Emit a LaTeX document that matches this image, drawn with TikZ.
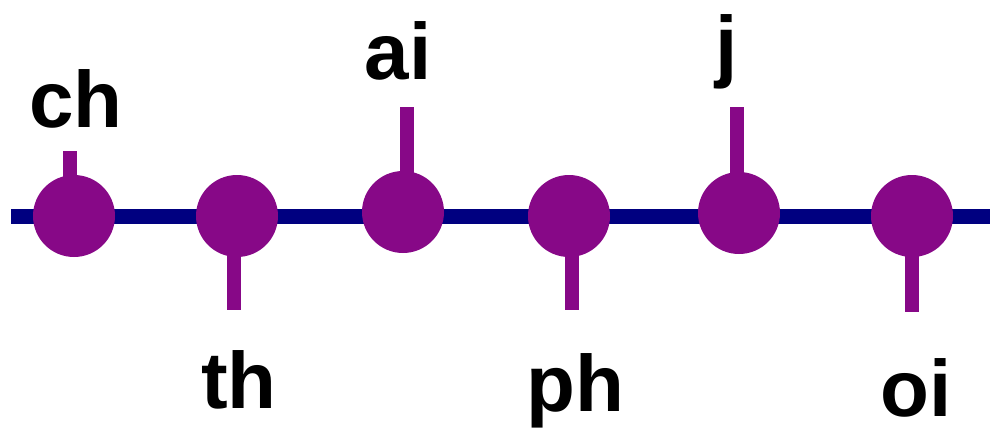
\documentclass[tikz,border=0pt]{standalone}
\usepackage{fontspec}
\setmainfont{Liberation Sans}
\definecolor{dotpurple}{RGB}{135,8,135}
\definecolor{linenavy}{RGB}{0,0,128}
\tikzset{
  dotnode/.style={circle, fill=dotpurple, draw=none, minimum size=82pt, inner sep=0pt},
  stemline/.style={draw=dotpurple, line width=14pt},
  axisline/.style={draw=linenavy, line width=15pt},
  lbl/.style={anchor=base, inner sep=0pt, font=\fontsize{80}{80}\selectfont\bfseries},
}
\begin{document}
\begin{tikzpicture}[x=1pt,y=-1pt]
\useasboundingbox (0,0) rectangle (990,429);
% main line (drawn first, behind the dots)
\coordinate (L) at (11,216);
\coordinate (R) at (990,216);
\draw[axisline] (L) -- (R);
% dots
\node[dotnode] (c1) at (74,216) {};
\node[dotnode] (c2) at (237,216) {};
\node[dotnode] (c3) at (403,212) {};
\node[dotnode] (c4) at (569,216) {};
\node[dotnode] (c5) at (739,213) {};
\node[dotnode] (c6) at (912,216) {};
% stem ends
\coordinate (s1) at (70,151);
\coordinate (s2) at (234,310);
\coordinate (s3) at (407,107);
\coordinate (s4) at (572,310);
\coordinate (s5) at (737,107);
\coordinate (s6) at (912,312);
\draw[stemline] (s1 |- c1.center) -- (s1);
\draw[stemline] (s2 |- c2.center) -- (s2);
\draw[stemline] (s3 |- c3.center) -- (s3);
\draw[stemline] (s4 |- c4.center) -- (s4);
\draw[stemline] (s5 |- c5.center) -- (s5);
\draw[stemline] (s6 |- c6.center) -- (s6);
% labels
\node[lbl] (t1) at (76,127) {ch};
\node[lbl] (t2) at (239,408) {th};
\node[lbl] (t3) at (398,79) {ai};
\node[lbl] (t4) at (575,411) {ph};
\node[lbl] (t5) at (727,72) {j};
\node[lbl] (t6) at (916,416) {oi};
\end{tikzpicture}
\end{document}
